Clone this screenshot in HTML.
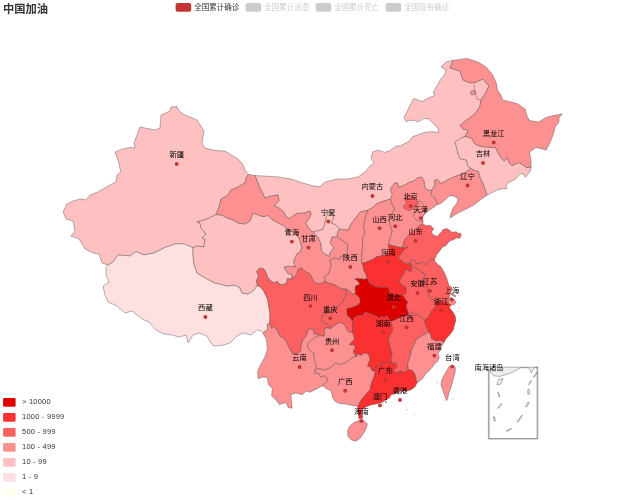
<!DOCTYPE html>
<html lang="zh"><head><meta charset="utf-8"><title>中国加油</title>
<style>html,body{margin:0;padding:0;background:#fff;}body{width:625px;height:500px;overflow:hidden;}svg{display:block;}text{font-family:"Liberation Sans", "Noto Sans CJK SC", sans-serif;}.p{stroke:#444;stroke-width:0.4;stroke-linejoin:round;}.lb{font-size:7.3px;fill:#000;text-anchor:middle;dominant-baseline:central;}.dot{fill:#c23531;}.lg{font-size:7.5px;dominant-baseline:central;}.vm{font-size:7.5px;letter-spacing:0.22px;fill:#333;dominant-baseline:central;}</style></head><body>
<svg width="625" height="500" viewBox="0 0 625 500">
<rect width="625" height="500" fill="#fff"/>
<text x="3.1" y="8.8" style="font-size:11.25px;font-weight:bold;fill:#333;dominant-baseline:central;">中国加油</text>
<rect x="175.60" y="2.9" width="15.6" height="8.75" rx="2" ry="2" fill="#c23531"/>
<text class="lg" x="194.30" y="7.4" fill="#333">全国累计确诊</text>
<rect x="245.60" y="2.9" width="15.6" height="8.75" rx="2" ry="2" fill="#ccc"/>
<text class="lg" x="264.30" y="7.4" fill="#ccc">全国累计治愈</text>
<rect x="315.60" y="2.9" width="15.6" height="8.75" rx="2" ry="2" fill="#ccc"/>
<text class="lg" x="334.30" y="7.4" fill="#ccc">全国累计死亡</text>
<rect x="385.60" y="2.9" width="15.6" height="8.75" rx="2" ry="2" fill="#ccc"/>
<text class="lg" x="404.30" y="7.4" fill="#ccc">全国现有确诊</text>
<g id="map">
<path class="p" fill="#fec0c0" d="M255.0 175.6L263.0 176.0L279.0 177.0L291.0 179.0L303.0 183.0L313.0 186.0L320.0 186.6L325.0 182.0L337.0 179.0L347.0 179.0L358.0 177.0L365.0 172.0L370.0 166.0L374.0 163.0L371.0 158.0L373.0 151.5L378.4 150.2L384.8 152.4L389.6 150.8L396.0 146.2L400.2 145.8L409.2 141.3L412.4 136.8L419.4 134.3L424.6 132.4L432.2 131.7L438.6 132.4L438.0 128.5L433.5 123.4L428.4 118.9L423.3 118.5L418.2 122.1L414.3 120.2L408.6 120.8L406.0 121.5L403.8 117.6L406.0 113.8L409.2 106.8L413.7 98.4L422.0 101.6L428.4 97.8L434.2 95.9L433.5 92.0L436.7 86.3L441.0 79.0L445.0 74.0L446.0 70.0L441.0 67.0L446.0 62.0L453.0 60.4L450.0 68.0L460.0 71.0L463.0 80.0L470.0 83.0L476.0 82.0L483.0 79.0L489.0 86.0L485.0 94.0L481.0 100.0L480.0 106.0L475.0 114.0L468.0 119.0L460.0 125.5L463.0 129.0L468.0 130.0L467.0 133.0L465.0 136.4L460.8 138.2L456.9 140.8L455.0 142.0L456.3 146.5L458.2 154.2L460.1 158.7L466.5 160.0L467.8 166.4L471.0 168.3L465.9 172.1L460.1 174.7L455.0 176.6L451.8 177.8L444.8 181.6L440.3 183.5L437.7 179.7L434.5 180.3L435.2 184.2L432.0 190.0L430.7 190.6L426.2 189.3L424.3 186.0L424.3 181.6L421.7 177.1L417.2 177.8L414.0 181.0L409.6 182.2L405.0 184.8L398.7 187.4L397.4 182.9L394.2 183.5L390.4 189.3L392.3 194.4L390.5 199.0L383.0 201.3L376.7 203.8L371.6 208.3L367.7 210.2L360.0 212.2L355.6 218.0L350.4 225.0L348.5 230.0L343.4 230.0L339.6 228.8L335.7 225.0L331.2 223.0L333.8 216.6L331.0 211.5L328.0 212.5L326.0 218.0L324.8 223.7L323.0 229.4L313.3 232.0L309.0 229.0L305.6 223.0L309.0 218.6L311.0 214.0L310.0 211.0L304.0 213.0L297.0 213.4L293.0 216.0L290.0 218.6L286.0 217.0L284.0 212.0L279.0 208.0L274.0 206.0L279.0 201.0L278.0 195.0L271.0 196.0L265.0 198.0L260.0 188.0Z"/>
<path class="p" fill="#fec0c0" d="M108.0 265.0L102.0 263.0L99.0 254.0L93.0 253.0L85.0 249.0L79.0 239.0L71.0 236.0L75.0 231.0L73.0 221.0L66.0 219.0L63.0 212.0L67.0 204.0L73.0 201.0L80.0 199.0L86.0 200.0L90.0 195.0L98.0 192.0L108.0 186.0L116.0 182.0L117.0 175.0L120.6 172.0L119.0 163.0L115.0 152.0L121.0 149.4L130.0 147.4L135.0 148.0L134.0 143.0L140.0 127.0L155.0 130.0L160.0 128.0L161.0 115.0L170.0 111.0L171.0 107.0L177.0 106.6L179.0 111.0L185.0 115.0L197.0 120.0L204.0 131.0L202.0 143.0L205.0 148.0L215.0 150.5L225.0 151.0L238.0 159.0L242.0 163.0L245.0 170.0L248.6 174.4L246.6 176.4L245.0 183.0L238.0 187.0L231.0 190.0L227.0 196.0L221.0 199.0L219.0 207.0L216.0 214.5L207.0 219.0L197.0 222.0L200.0 223.0L201.0 228.0L206.0 234.0L202.0 238.0L205.0 239.0L204.0 247.0L197.0 246.0L193.0 247.6L183.0 243.6L175.0 244.0L165.0 247.5L154.0 253.0L144.0 255.0L136.0 251.6L130.0 256.0L118.0 255.0L113.0 262.0Z"/>
<path class="p" fill="#ffe0e0" d="M108.0 265.0L113.0 262.0L118.0 255.0L130.0 256.0L136.0 251.6L144.0 255.0L154.0 253.0L165.0 247.5L175.0 244.0L183.0 243.6L193.0 247.6L193.0 255.0L194.0 264.0L197.0 273.0L207.0 279.0L215.0 283.0L220.0 284.0L227.0 286.0L235.0 285.0L240.0 288.0L242.0 293.0L248.0 294.0L253.0 291.0L257.3 285.5L260.5 287.0L264.0 291.5L267.5 299.0L269.0 307.0L270.0 315.0L269.7 323.4L267.2 324.3L267.8 329.2L264.6 331.8L262.9 333.0L260.8 331.1L257.6 329.8L255.0 331.8L251.0 335.0L243.0 333.0L237.0 336.0L230.0 343.0L222.0 345.5L214.0 346.0L210.0 342.0L207.0 336.0L199.0 333.0L193.0 335.0L188.0 343.0L186.0 335.0L179.0 337.0L172.0 335.0L164.0 334.0L156.0 330.0L149.0 322.0L142.0 319.0L132.0 311.0L125.0 313.0L117.0 306.0L108.0 302.0L105.0 295.0L103.0 286.0L109.0 282.0L106.0 275.0L106.0 267.0Z"/>
<path class="p" fill="#fec0c0" d="M193.0 247.6L197.0 246.0L204.0 247.0L205.0 239.0L202.0 238.0L206.0 234.0L201.0 228.0L200.0 223.0L197.0 222.0L207.0 219.0L216.0 214.5L222.0 215.0L227.0 218.0L233.0 220.0L238.0 223.0L245.0 224.0L250.0 221.0L253.0 213.0L257.0 214.5L261.0 216.0L264.0 216.6L267.8 215.4L271.6 219.2L277.4 222.4L282.5 225.0L287.0 228.2L293.0 232.5L298.5 237.0L300.3 241.5L301.9 247.7L300.0 252.2L296.8 254.0L293.6 261.8L295.5 266.9L289.0 266.2L284.2 267.0L284.8 268.9L288.0 273.4L291.8 274.6L292.2 276.2L291.8 279.1L287.4 278.5L286.7 283.0L282.2 284.9L278.4 283.6L277.1 281.0L274.6 283.0L270.7 281.0L267.5 277.2L265.6 272.0L263.7 268.9L259.8 268.0L256.6 271.4L258.6 275.9L256.6 280.4L257.3 285.5L253.0 291.0L248.0 294.0L242.0 293.0L240.0 288.0L235.0 285.0L227.0 286.0L220.0 284.0L215.0 283.0L207.0 279.0L197.0 273.0L194.0 264.0L193.0 255.0Z"/>
<path class="p" fill="#fd9090" d="M216.0 214.5L219.0 207.0L221.0 199.0L227.0 196.0L231.0 190.0L238.0 187.0L245.0 183.0L246.6 176.4L248.6 174.4L255.0 175.6L260.0 188.0L265.0 198.0L271.0 196.0L278.0 195.0L279.0 201.0L274.0 206.0L279.0 208.0L284.0 212.0L286.0 217.0L290.0 218.6L293.0 216.0L297.0 213.4L304.0 213.0L310.0 211.0L311.0 214.0L309.0 218.6L305.6 223.0L309.0 229.0L313.3 232.0L315.2 234.0L318.4 237.8L321.0 243.5L321.6 251.2L325.0 254.0L329.3 256.3L330.0 252.5L333.8 248.0L330.0 242.9L331.9 237.0L337.0 236.5L339.0 238.4L343.4 241.0L347.9 244.2L347.2 252.5L347.2 256.3L340.8 256.3L340.2 259.5L334.5 258.0L330.0 259.8L331.3 265.0L328.8 274.0L324.3 277.0L325.3 281.5L322.4 282.9L318.5 284.0L313.6 281.7L311.7 277.2L309.1 273.4L304.0 270.8L301.4 267.6L298.2 269.5L297.0 273.4L293.8 278.5L292.2 276.2L291.8 274.6L288.0 273.4L284.8 268.9L284.2 267.0L289.0 266.2L295.5 266.9L293.6 261.8L296.8 254.0L300.0 252.2L301.9 247.7L300.3 241.5L298.5 237.0L293.0 232.5L287.0 228.2L282.5 225.0L277.4 222.4L271.6 219.2L267.8 215.4L264.0 216.6L261.0 216.0L257.0 214.5L253.0 213.0L250.0 221.0L245.0 224.0L238.0 223.0L233.0 220.0L227.0 218.0L222.0 215.0Z"/>
<path class="p" fill="#fec0c0" d="M313.3 232.0L323.0 229.4L324.8 223.7L326.0 218.0L328.0 212.5L331.0 211.5L333.8 216.6L331.2 223.0L335.7 225.0L339.6 228.8L337.6 232.0L337.0 236.5L331.9 237.0L330.0 242.9L333.8 248.0L330.0 252.5L329.3 256.3L325.0 254.0L321.6 251.2L321.0 243.5L318.4 237.8L315.2 234.0Z"/>
<path class="p" fill="#fd9090" d="M339.6 228.8L343.4 230.0L348.5 230.0L350.4 225.0L355.6 218.0L360.0 212.2L367.7 210.2L365.0 219.2L363.4 226.9L365.2 232.0L362.8 238.0L362.5 247.5L361.5 256.0L362.0 263.6L363.2 266.0L364.0 270.8L366.0 274.0L367.2 278.8L364.0 279.2L359.2 278.8L354.8 278.8L357.2 280.4L359.6 283.2L359.2 284.8L355.6 286.0L355.2 289.2L355.6 294.0L352.4 293.6L348.8 290.8L346.0 289.2L342.2 289.0L338.4 287.2L334.6 284.6L328.8 283.3L325.3 281.5L324.3 277.0L328.8 274.0L331.3 265.0L330.0 259.8L334.5 258.0L340.2 259.5L340.8 256.3L347.2 256.3L347.2 252.5L347.9 244.2L343.4 241.0L339.0 238.4L337.0 236.5L337.6 232.0Z"/>
<path class="p" fill="#fd9090" d="M367.7 210.2L371.6 208.3L376.7 203.8L383.0 201.3L390.5 199.0L392.3 204.6L394.8 209.0L391.6 214.2L389.0 219.4L390.4 225.8L392.3 230.9L390.5 237.0L388.6 244.4L388.8 250.4L385.2 255.2L382.0 256.0L376.4 256.8L373.2 259.2L368.4 261.2L362.0 263.6L361.5 256.0L362.5 247.5L362.8 238.0L365.2 232.0L363.4 226.9L365.0 219.2Z"/>
<path class="p" fill="#fd9090" d="M390.5 199.0L392.3 194.4L390.4 189.3L394.2 183.5L397.4 182.9L398.7 187.4L405.0 184.8L409.6 182.2L414.0 181.0L417.2 177.8L421.7 177.1L424.3 181.6L424.3 186.0L426.2 189.3L430.7 190.6L432.0 190.0L431.0 194.5L435.2 198.2L437.5 204.5L433.9 207.2L428.8 210.4L424.9 213.6L423.0 216.0L422.4 218.7L423.0 221.3L422.8 223.6L418.5 226.5L413.9 230.6L410.0 233.8L406.2 237.6L404.3 240.8L402.4 247.8L399.2 247.2L393.4 245.9L388.6 244.4L390.5 237.0L392.3 230.9L390.4 225.8L389.0 219.4L391.6 214.2L394.8 209.0L392.3 204.6Z"/>
<path class="p" fill="#fd9090" d="M432.0 190.0L435.2 184.2L434.5 180.3L437.7 179.7L440.3 183.5L444.8 181.6L451.8 177.8L455.0 176.6L460.1 174.7L465.9 172.1L471.0 168.3L474.2 170.2L478.7 171.5L480.0 177.2L483.2 183.6L485.1 188.8L487.0 195.2L480.0 200.0L474.0 205.0L466.0 209.0L458.0 213.0L450.0 218.0L451.0 213.0L453.0 208.0L457.0 203.0L458.0 199.0L454.0 196.0L449.0 196.0L445.0 200.0L440.0 204.0L437.5 204.5L435.2 198.2L431.0 194.5Z"/>
<path class="p" fill="#fec0c0" d="M471.0 168.3L467.8 166.4L466.5 160.0L460.1 158.7L458.2 154.2L456.3 146.5L455.0 142.0L456.9 140.8L460.8 138.2L465.0 136.4L471.6 138.2L474.2 143.3L480.6 146.5L488.3 147.2L496.0 147.8L497.9 152.9L501.7 158.7L504.3 161.2L507.5 157.4L508.8 162.5L512.0 165.7L519.0 162.5L524.1 165.7L526.7 167.6L531.2 167.0L529.9 172.1L525.4 177.2L522.8 173.4L519.0 174.7L515.2 179.2L508.8 182.4L506.2 185.6L506.8 188.8L502.4 188.8L497.2 190.0L492.1 192.6L487.0 195.2L485.1 188.8L483.2 183.6L480.0 177.2L478.7 171.5L474.2 170.2Z"/>
<path class="p" fill="#fd9090" d="M465.0 136.4L467.0 133.0L468.0 130.0L463.0 129.0L460.0 125.5L468.0 119.0L475.0 114.0L480.0 106.0L481.0 100.0L485.0 94.0L489.0 86.0L483.0 79.0L476.0 82.0L470.0 83.0L463.0 80.0L460.0 71.0L450.0 68.0L453.0 60.4L467.0 58.4L478.0 62.0L486.0 67.0L492.0 74.0L496.0 82.0L497.5 90.0L500.8 95.0L502.7 100.1L511.6 102.0L518.0 104.0L525.1 109.1L527.0 116.1L529.6 120.6L538.5 121.9L546.2 117.4L553.9 115.5L562.2 113.8L559.0 118.0L559.0 121.9L555.2 127.0L553.2 134.7L550.0 142.4L546.2 150.0L536.0 147.5L529.6 152.0L530.8 159.0L531.2 167.0L526.7 167.6L524.1 165.7L519.0 162.5L512.0 165.7L508.8 162.5L507.5 157.4L504.3 161.2L501.7 158.7L497.9 152.9L496.0 147.8L488.3 147.2L480.6 146.5L474.2 143.3L471.6 138.2Z"/>
<path class="p" fill="#fb3030" d="M388.6 244.4L393.4 245.9L399.2 247.2L402.4 247.8L408.1 247.2L404.5 249.6L402.4 251.7L398.2 258.2L402.2 260.6L405.0 263.4L410.2 263.4L411.4 267.0L412.6 269.8L410.2 272.2L408.2 271.0L406.6 269.4L405.0 269.8L404.2 273.4L402.2 275.8L401.4 278.6L399.0 280.2L400.2 282.6L402.2 285.0L405.8 286.6L406.2 290.2L406.0 293.2L402.8 295.6L398.0 295.0L392.0 293.8L389.2 292.2L388.0 287.8L384.0 287.6L378.4 287.6L374.4 286.4L371.2 284.8L368.8 282.0L367.2 278.8L366.0 274.0L364.0 270.8L363.2 266.0L362.0 263.6L368.4 261.2L373.2 259.2L376.4 256.8L382.0 256.0L385.2 255.2L388.8 250.4Z"/>
<path class="p" fill="#fc6060" d="M402.4 247.8L404.3 240.8L406.2 237.6L410.0 233.8L413.9 230.6L418.5 226.5L422.8 223.6L425.4 225.4L430.2 225.4L432.2 227.0L433.6 229.4L431.8 231.4L432.2 233.8L435.0 235.8L437.8 236.2L439.4 233.8L441.8 231.8L442.6 229.8L446.6 228.6L449.0 229.8L451.8 232.2L456.2 231.8L458.6 233.4L461.0 233.2L461.0 236.2L459.4 238.6L456.6 237.8L453.8 239.8L450.6 240.6L447.8 243.0L445.8 245.8L442.6 247.0L441.4 248.6L439.8 251.0L437.0 254.2L434.2 260.2L431.4 259.0L428.2 262.6L425.8 265.0L423.4 262.6L420.2 263.0L417.0 264.2L415.4 262.2L413.0 259.8L411.0 260.6L410.2 263.4L405.0 263.4L402.2 260.6L398.2 258.2L402.4 251.7L404.5 249.6L408.1 247.2Z"/>
<path class="p" fill="#fc6060" d="M410.2 263.4L411.0 260.6L413.0 259.8L415.4 262.2L417.0 264.2L420.2 263.0L423.4 262.6L425.8 265.0L428.2 262.6L431.4 259.0L434.2 260.2L436.2 262.7L441.3 267.2L443.8 271.7L445.4 275.0L447.0 279.0L448.2 283.0L449.0 285.4L451.4 287.0L452.5 289.5L450.5 292.5L449.5 296.0L449.0 298.2L452.0 301.0L448.0 302.5L444.0 302.0L440.0 301.2L436.5 302.0L434.2 300.0L430.4 299.2L428.6 294.2L427.4 291.0L427.8 288.0L425.5 283.5L423.4 278.6L425.0 275.8L424.2 273.0L421.0 272.2L418.6 269.8L415.4 268.2L412.2 265.8Z"/>
<path class="p" fill="#fc6060" d="M410.2 263.4L412.2 265.8L415.4 268.2L418.6 269.8L421.0 272.2L424.2 273.0L425.0 275.8L423.4 278.6L425.5 283.5L427.8 288.0L427.4 291.0L428.6 294.2L430.4 299.2L434.2 300.0L436.0 305.0L434.0 309.0L431.5 310.9L429.6 316.0L424.8 320.4L422.4 317.8L420.0 316.6L417.6 314.2L415.2 315.8L412.8 312.2L410.8 313.0L408.4 315.0L408.0 312.2L406.8 309.0L406.0 305.8L407.6 302.2L404.8 298.6L402.8 295.6L406.0 293.2L406.2 290.2L405.8 286.6L402.2 285.0L400.2 282.6L399.0 280.2L401.4 278.6L402.2 275.8L404.2 273.4L405.0 269.8L406.6 269.4L408.2 271.0L410.2 272.2L412.6 269.8L411.4 267.0Z"/>
<path class="p" fill="#dd0000" d="M367.2 278.8L368.8 282.0L371.2 284.8L374.4 286.4L378.4 287.6L384.0 287.6L388.0 287.8L389.2 292.2L392.0 293.8L398.0 295.0L402.8 295.6L404.8 298.6L407.6 302.2L406.0 305.8L406.8 309.0L408.0 312.2L408.4 315.0L404.8 316.2L401.5 317.0L398.4 318.2L394.4 320.2L390.4 321.8L388.8 318.6L387.0 315.8L384.2 317.4L381.8 316.2L378.8 318.2L376.8 316.2L373.6 315.0L370.4 313.4L366.4 312.2L363.6 313.0L362.8 315.8L359.2 315.0L356.0 316.2L354.0 318.2L352.4 321.4L350.8 319.0L349.2 317.0L346.4 315.0L347.2 313.4L346.4 309.4L347.6 308.2L351.2 307.4L354.8 306.2L358.8 304.2L360.0 302.2L359.6 298.2L357.2 295.5L355.6 294.0L355.2 289.2L355.6 286.0L359.2 284.8L359.6 283.2L357.2 280.4L354.8 278.8L359.2 278.8L364.0 279.2Z"/>
<path class="p" fill="#fc6060" d="M346.0 289.2L348.8 290.8L352.4 293.6L355.6 294.0L357.2 295.5L359.6 298.2L360.0 302.2L358.8 304.2L354.8 306.2L351.2 307.4L347.6 308.2L346.4 309.4L347.2 313.4L346.4 315.0L349.2 317.0L350.8 319.0L352.4 321.4L352.6 326.5L352.5 330.5L352.0 332.0L350.4 332.8L347.2 330.6L345.6 327.0L343.2 323.8L340.0 322.6L337.0 323.6L334.0 326.0L330.7 328.8L328.2 325.0L323.7 323.0L321.1 318.5L323.0 314.7L327.0 313.0L331.0 311.0L336.0 309.0L338.4 305.7L341.6 303.2L342.8 301.2L344.4 297.6L346.4 294.0Z"/>
<path class="p" fill="#fc6060" d="M257.3 285.5L256.6 280.4L258.6 275.9L256.6 271.4L259.8 268.0L263.7 268.9L265.6 272.0L267.5 277.2L270.7 281.0L274.6 283.0L277.1 281.0L278.4 283.6L282.2 284.9L286.7 283.0L287.4 278.5L291.8 279.1L292.2 276.2L293.8 278.5L297.0 273.4L298.2 269.5L301.4 267.6L304.0 270.8L309.1 273.4L311.7 277.2L313.6 281.7L318.5 284.0L322.4 282.9L325.3 281.5L328.8 283.3L334.6 284.6L338.4 287.2L342.2 289.0L346.0 289.2L346.4 294.0L344.4 297.6L342.8 301.2L341.6 303.2L338.4 305.7L336.0 309.0L331.0 311.0L327.0 313.0L323.0 314.7L321.1 318.5L323.7 323.0L328.2 325.0L330.7 328.8L326.7 327.9L324.1 329.2L324.8 331.8L324.1 336.2L319.4 335.6L318.4 335.0L314.1 333.7L312.6 328.8L309.0 329.2L307.5 332.4L305.6 336.9L302.4 340.7L301.1 345.8L300.4 351.6L297.2 354.2L292.1 353.5L289.6 348.4L286.4 342.6L283.2 337.5L280.0 336.2L277.4 331.1L274.2 326.6L271.6 328.6L269.7 323.4L270.0 315.0L269.0 307.0L267.5 299.0L264.0 291.5L260.5 287.0Z"/>
<path class="p" fill="#fd9090" d="M262.9 333.0L264.6 331.8L267.8 329.2L267.2 324.3L269.7 323.4L271.6 328.6L274.2 326.6L277.4 331.1L280.0 336.2L283.2 337.5L286.4 342.6L289.6 348.4L292.1 353.5L297.2 354.2L300.4 351.6L301.1 345.8L302.4 340.7L305.6 336.9L307.5 332.4L309.0 329.2L312.6 328.8L314.1 333.7L318.4 335.0L319.4 335.6L315.2 337.5L310.0 341.4L307.5 344.3L308.1 348.4L311.3 351.0L313.9 352.9L314.5 360.6L316.4 365.0L315.2 370.5L314.5 373.0L319.0 373.7L320.3 376.9L324.1 375.6L328.0 378.8L326.7 382.0L322.8 385.8L320.3 387.1L315.2 389.7L310.0 392.2L306.2 391.0L302.4 394.8L296.0 392.9L290.8 394.8L291.5 400.6L292.1 408.2L288.3 407.6L285.7 402.5L279.3 404.4L276.1 400.0L271.6 396.1L272.3 388.4L268.4 384.6L267.2 377.5L262.7 376.9L258.2 378.8L257.6 371.8L260.1 365.4L264.6 357.7L267.2 350.0L267.2 347.0L266.5 339.4Z"/>
<path class="p" fill="#fd9090" d="M319.4 335.6L324.1 336.2L324.8 331.8L324.1 329.2L326.7 327.9L330.7 328.8L334.0 326.0L337.0 323.6L340.0 322.6L343.2 323.8L345.6 327.0L347.2 330.6L350.4 332.8L352.0 332.0L353.9 335.6L354.4 339.4L351.5 342.3L349.6 344.7L354.4 344.7L355.4 348.0L353.4 350.9L354.4 353.8L356.8 356.4L354.4 356.7L350.6 359.1L347.2 361.5L344.3 363.4L340.0 364.6L336.0 363.0L330.0 368.0L324.0 370.0L318.5 368.5L315.2 370.5L316.4 365.0L314.5 360.6L313.9 352.9L311.3 351.0L308.1 348.4L307.5 344.3L310.0 341.4L315.2 337.5Z"/>
<path class="p" fill="#fb3030" d="M352.4 321.4L354.0 318.2L356.0 316.2L359.2 315.0L362.8 315.8L363.6 313.0L366.4 312.2L370.4 313.4L373.6 315.0L376.8 316.2L378.8 318.2L381.8 316.2L384.2 317.4L387.0 315.8L388.8 318.6L390.4 321.8L392.3 325.0L392.8 330.8L389.9 335.6L388.5 339.4L389.4 344.2L390.9 349.0L392.3 353.8L391.3 357.6L391.8 362.5L388.0 363.4L383.7 362.9L382.2 364.8L378.4 364.3L376.9 365.8L375.5 368.2L371.7 370.1L370.7 367.2L367.4 366.3L368.3 363.4L369.8 359.5L369.3 356.7L367.8 353.8L364.0 353.3L360.6 355.7L358.2 353.8L356.8 356.4L354.4 353.8L353.4 350.9L355.4 348.0L354.4 344.7L349.6 344.7L351.5 342.3L354.4 339.4L353.9 335.6L352.0 332.0L352.5 330.5L352.6 326.5Z"/>
<path class="p" fill="#fd9090" d="M315.2 370.5L318.5 368.5L324.0 370.0L330.0 368.0L336.0 363.0L340.0 364.6L344.3 363.4L347.2 361.5L350.6 359.1L354.4 356.7L356.8 356.4L358.2 353.8L360.6 355.7L364.0 353.3L367.8 353.8L369.3 356.7L369.8 359.5L368.3 363.4L367.4 366.3L370.7 367.2L371.7 370.1L375.2 371.8L373.9 377.5L371.4 383.3L370.1 389.7L365.0 395.4L361.8 399.3L359.2 403.8L357.9 406.3L352.0 405.4L345.6 404.1L339.2 403.4L334.7 400.9L332.4 397.4L331.2 391.0L326.0 388.4L322.8 385.8L326.7 382.0L328.0 378.8L324.1 375.6L320.3 376.9L319.0 373.7L314.5 373.0Z"/>
<path class="p" fill="#fb3030" d="M371.7 370.1L375.5 368.2L376.9 365.8L378.4 364.3L382.2 364.8L383.7 362.9L388.0 363.4L391.8 362.5L396.3 363.4L397.0 366.6L393.8 370.5L395.0 372.8L400.2 371.1L405.9 372.0L408.0 369.2L412.5 370.5L415.0 373.7L416.2 379.0L417.0 383.0L414.9 387.1L411.0 389.7L407.2 391.0L402.0 391.0L398.0 391.5L394.0 394.0L391.2 394.8L389.3 398.0L384.8 400.6L382.2 402.5L377.1 403.8L370.7 405.0L365.6 407.0L362.4 409.5L361.8 414.0L363.0 418.0L359.0 419.0L358.0 412.0L357.9 406.3L359.2 403.8L361.8 399.3L365.0 395.4L370.1 389.7L371.4 383.3L373.9 377.5L375.2 371.8Z"/>
<path class="p" fill="#fc6060" d="M390.4 321.8L394.4 320.2L398.4 318.2L401.5 317.0L404.8 316.2L408.4 315.0L410.8 313.0L412.8 312.2L415.2 315.8L417.6 314.2L420.0 316.6L422.4 317.8L424.8 320.4L425.7 325.0L427.6 328.8L428.9 332.0L425.1 334.6L420.6 336.5L416.1 339.7L415.5 342.0L413.0 346.3L411.1 351.4L409.8 357.8L407.9 362.9L408.0 369.2L405.9 372.0L400.2 371.1L395.0 372.8L393.8 370.5L397.0 366.6L396.3 363.4L391.8 362.5L391.3 357.6L392.3 353.8L390.9 349.0L389.4 344.2L388.5 339.4L389.9 335.6L392.8 330.8L392.3 325.0Z"/>
<path class="p" fill="#fb3030" d="M424.8 320.4L429.6 316.0L431.5 310.9L434.0 309.0L436.0 305.0L434.2 300.0L436.5 302.0L440.0 301.2L444.0 302.0L448.0 302.5L452.0 301.0L451.4 305.0L449.4 307.0L450.0 308.3L452.6 311.5L455.2 316.0L455.8 320.5L454.5 325.0L453.2 330.0L450.0 334.6L446.2 338.4L444.0 342.5L440.4 340.5L436.0 341.0L431.5 339.0L430.8 335.2L428.9 332.0L427.6 328.8L425.7 325.0Z"/>
<path class="p" fill="#fd9090" d="M408.0 369.2L407.9 362.9L409.8 357.8L411.1 351.4L413.0 346.3L415.5 342.0L416.1 339.7L420.6 336.5L425.1 334.6L428.9 332.0L430.8 335.2L431.5 339.0L436.0 341.0L440.4 340.5L444.0 342.5L441.5 346.5L440.6 350.1L438.0 353.3L439.3 357.8L437.4 361.6L434.2 364.2L432.2 367.4L428.4 371.2L425.8 373.8L423.3 377.6L420.1 380.8L417.0 383.0L416.2 379.0L415.0 373.7L412.5 370.5Z"/>
<path class="p" fill="#fc6060" d="M407.0 196.5L410.0 195.5L414.0 197.0L417.2 200.4L417.9 204.0L414.7 205.9L413.4 209.1L408.9 210.4L404.4 208.5L403.4 205.5L406.4 204.0L405.5 200.0Z"/>
<path class="p" fill="#fd9090" d="M424.9 213.6L423.0 216.0L422.4 218.7L423.0 221.3L419.8 221.3L416.0 220.0L413.4 216.8L414.0 213.0L414.7 209.0L417.9 204.0L419.8 200.8L423.0 204.0L424.3 209.0Z"/>
<path class="p" fill="#fd9090" d="M449.0 298.2L451.4 297.4L455.0 300.6L456.2 302.6L454.2 304.2L451.4 305.0L448.6 303.4L448.2 301.4Z"/>
<path class="p" fill="#fd9090" d="M452.2 293.0L455.8 295.8L455.4 297.0L451.4 295.0Z"/>
<path class="p" fill="#fd9090" d="M452.1 365.5L455.3 367.4L455.3 371.2L453.4 378.3L451.4 386.0L448.9 393.0L447.6 398.8L446.3 400.7L445.0 396.2L443.1 391.1L441.2 386.0L441.2 381.5L443.8 375.7L447.0 370.0L449.5 366.1Z"/>
<path class="p" fill="#fd9090" d="M353.9 422.6L358.4 420.7L364.2 420.7L367.4 423.9L366.1 428.4L363.5 433.5L359.7 438.6L355.8 441.2L351.4 439.9L348.2 436.7L347.5 431.0L349.4 426.5Z"/>
<path class="p" fill="#fd9090" d="M470.5 92.0L472.0 90.5L475.0 91.0L476.0 93.0L474.0 95.0L471.0 94.5Z"/>
<path d="M474 83L474.5 90L476 95L477 99L481 100" fill="none" stroke="#444" stroke-width="0.4"/>
<path class="p" fill="#fec0c0" d="M397.6 391.6L399.5 390.6L401.4 391.4L400.6 393.2L398.4 393.4Z"/>
<path class="p" fill="#fec0c0" d="M385.2 401.6L386.4 401.4L386.6 402.6L385.4 402.8Z"/>
<circle cx="407" cy="409.6" r="0.5" fill="#888"/>
<circle cx="414" cy="414" r="0.5" fill="#888"/>
<circle cx="437" cy="382.6" r="0.5" fill="#888"/>
<circle cx="453" cy="399" r="0.5" fill="#888"/>
<circle cx="457.5" cy="311" r="0.5" fill="#888"/>
<circle cx="459" cy="308" r="0.5" fill="#888"/>
</g>
<g id="nanhai">
<path d="M488.4 369.9L493.8 375.8L500.0 376.4L511.6 372.6L520.8 367.7L528.5 367.7L531.6 373.1L533.9 367.7L537.8 367.7L537.8 367.2L492.3 367.2Z" fill="#eee" stroke="#444" stroke-width="0.4"/>
<path d="M498.4 379.6L503.1 378.5L500.8 384.0L496.9 385.0Z" fill="#eee" stroke="#444" stroke-width="0.4"/>
<path d="M497.7 392.1L499.2 396.9L500.0 396.9L498.4 392.1Z" fill="#eee" stroke="#444" stroke-width="0.4"/>
<path d="M500.8 403.9L497.7 408.3L498.4 408.3L502.3 403.9Z" fill="#eee" stroke="#444" stroke-width="0.4"/>
<path d="M493.0 416.9L494.6 421.2L495.3 421.2L494.6 416.9Z" fill="#eee" stroke="#444" stroke-width="0.4"/>
<path d="M506.2 431.0L510.8 428.8L511.6 428.8L507.7 431.0Z" fill="#eee" stroke="#444" stroke-width="0.4"/>
<path d="M517.0 421.8L521.6 415.3L522.4 415.3L518.5 421.8Z" fill="#eee" stroke="#444" stroke-width="0.4"/>
<path d="M525.5 406.6L527.8 402.3L529.3 402.3L527.0 406.6Z" fill="#eee" stroke="#444" stroke-width="0.4"/>
<path d="M527.8 394.2L527.8 389.4L529.3 389.4L529.3 394.2Z" fill="#eee" stroke="#444" stroke-width="0.4"/>
<path d="M528.5 384.5L530.9 380.7L531.6 380.7L529.3 384.5Z" fill="#eee" stroke="#444" stroke-width="0.4"/>
<path d="M533.2 376.9L536.3 372.6L537.0 372.6L534.7 376.9Z" fill="#eee" stroke="#444" stroke-width="0.4"/>
<path d="M488.4 369.9L488.4 439.1L537.8 439.1L537.8 367.2L537.0 367.2L537.0 438.5L489.2 438.5L489.2 369.9Z" fill="#eee" stroke="#444" stroke-width="0.4"/>
</g>
<g id="labels">
<circle class="dot" cx="176.7" cy="163.9" r="1.95"/>
<circle class="dot" cx="205.4" cy="317.0" r="1.95"/>
<circle class="dot" cx="291.9" cy="241.6" r="1.95"/>
<circle class="dot" cx="308.5" cy="247.6" r="1.95"/>
<circle class="dot" cx="328.3" cy="221.5" r="1.95"/>
<circle class="dot" cx="372.4" cy="196.0" r="1.95"/>
<circle class="dot" cx="350.4" cy="267.0" r="1.95"/>
<circle class="dot" cx="379.5" cy="228.2" r="1.95"/>
<circle class="dot" cx="395.2" cy="226.3" r="1.95"/>
<circle class="dot" cx="410.6" cy="206.0" r="1.95"/>
<circle class="dot" cx="420.8" cy="218.1" r="1.95"/>
<circle class="dot" cx="467.6" cy="185.5" r="1.95"/>
<circle class="dot" cx="483.0" cy="163.0" r="1.95"/>
<circle class="dot" cx="493.7" cy="142.5" r="1.95"/>
<circle class="dot" cx="415.5" cy="241.0" r="1.95"/>
<circle class="dot" cx="388.4" cy="261.8" r="1.95"/>
<circle class="dot" cx="429.9" cy="291.0" r="1.95"/>
<circle class="dot" cx="417.6" cy="293.0" r="1.95"/>
<circle class="dot" cx="451.9" cy="299.7" r="1.95"/>
<circle class="dot" cx="441.2" cy="310.4" r="1.95"/>
<circle class="dot" cx="393.6" cy="307.0" r="1.95"/>
<circle class="dot" cx="330.3" cy="318.3" r="1.95"/>
<circle class="dot" cx="310.5" cy="306.1" r="1.95"/>
<circle class="dot" cx="383.0" cy="332.4" r="1.95"/>
<circle class="dot" cx="406.6" cy="327.4" r="1.95"/>
<circle class="dot" cx="434.4" cy="355.6" r="1.95"/>
<circle class="dot" cx="452.4" cy="366.6" r="1.95"/>
<circle class="dot" cx="332.0" cy="350.2" r="1.95"/>
<circle class="dot" cx="299.6" cy="367.0" r="1.95"/>
<circle class="dot" cx="345.2" cy="390.7" r="1.95"/>
<circle class="dot" cx="385.4" cy="380.0" r="1.95"/>
<circle class="dot" cx="400.0" cy="400.0" r="1.95"/>
<circle class="dot" cx="380.0" cy="405.4" r="1.95"/>
<circle class="dot" cx="361.4" cy="421.0" r="1.95"/>
<text class="lb" x="176.7" y="154.8">新疆</text>
<text class="lb" x="205.4" y="307.9">西藏</text>
<text class="lb" x="291.9" y="232.5">青海</text>
<text class="lb" x="308.5" y="238.5">甘肃</text>
<text class="lb" x="328.3" y="212.4">宁夏</text>
<text class="lb" x="372.4" y="186.9">内蒙古</text>
<text class="lb" x="350.4" y="257.9">陕西</text>
<text class="lb" x="379.5" y="219.1">山西</text>
<text class="lb" x="395.2" y="217.2">河北</text>
<text class="lb" x="410.6" y="196.9">北京</text>
<text class="lb" x="420.8" y="209.0">天津</text>
<text class="lb" x="467.6" y="176.4">辽宁</text>
<text class="lb" x="483.0" y="153.9">吉林</text>
<text class="lb" x="493.7" y="133.4">黑龙江</text>
<text class="lb" x="415.5" y="231.9">山东</text>
<text class="lb" x="388.4" y="252.7">河南</text>
<text class="lb" x="429.9" y="281.9">江苏</text>
<text class="lb" x="417.6" y="283.9">安徽</text>
<text class="lb" x="451.9" y="290.6">上海</text>
<text class="lb" x="441.2" y="301.3">浙江</text>
<text class="lb" x="393.6" y="297.9">湖北</text>
<text class="lb" x="330.3" y="309.2">重庆</text>
<text class="lb" x="310.5" y="297.0">四川</text>
<text class="lb" x="383.0" y="323.3">湖南</text>
<text class="lb" x="406.6" y="318.3">江西</text>
<text class="lb" x="434.4" y="346.5">福建</text>
<text class="lb" x="452.4" y="357.5">台湾</text>
<text class="lb" x="332.0" y="341.1">贵州</text>
<text class="lb" x="299.6" y="357.9">云南</text>
<text class="lb" x="345.2" y="381.6">广西</text>
<text class="lb" x="385.4" y="370.9">广东</text>
<text class="lb" x="400.0" y="390.9">香港</text>
<text class="lb" x="380.0" y="396.3">澳门</text>
<text class="lb" x="361.4" y="411.9">海南</text>
<text class="lb" x="489" y="367.0">南海诸岛</text>
</g>
<rect x="3.1" y="397.90" width="12.5" height="8.75" rx="1.3" ry="1.3" fill="#dd0000"/>
<text class="vm" x="22" y="401.30">&gt; 10000</text>
<rect x="3.1" y="412.90" width="12.5" height="8.75" rx="1.3" ry="1.3" fill="#fb3030"/>
<text class="vm" x="22" y="416.30">1000 - 9999</text>
<rect x="3.1" y="427.90" width="12.5" height="8.75" rx="1.3" ry="1.3" fill="#fc6060"/>
<text class="vm" x="22" y="431.30">500 - 999</text>
<rect x="3.1" y="442.90" width="12.5" height="8.75" rx="1.3" ry="1.3" fill="#fd9090"/>
<text class="vm" x="22" y="446.30">100 - 499</text>
<rect x="3.1" y="457.90" width="12.5" height="8.75" rx="1.3" ry="1.3" fill="#fec0c0"/>
<text class="vm" x="22" y="461.30">10 - 99</text>
<rect x="3.1" y="472.90" width="12.5" height="8.75" rx="1.3" ry="1.3" fill="#ffe0e0"/>
<text class="vm" x="22" y="476.30">1 - 9</text>
<rect x="3.1" y="487.90" width="12.5" height="8.75" rx="1.3" ry="1.3" fill="#fffff0"/>
<text class="vm" x="22" y="491.30">&lt; 1</text>
</svg></body></html>
